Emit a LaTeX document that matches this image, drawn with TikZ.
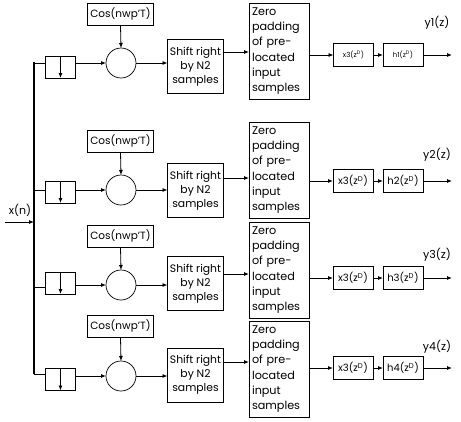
\documentclass[tikz,border=0pt]{standalone}
\usepackage{fontspec}
\setmainfont{Poppins}
\usetikzlibrary{arrows.meta}
\begin{document}
\begin{tikzpicture}[x=1pt,y=-1pt,
  every node/.style={inner sep=0pt,outer sep=0pt},
  box/.style={draw,line width=0.9pt,font=\fontsize{10.5}{12}\selectfont},
  cosbox/.style={box,minimum width=66pt,minimum height=22pt},
  dsbox/.style={draw,line width=0.9pt,minimum width=30pt,minimum height=22pt},
  mixer/.style={draw,circle,line width=0.7pt,minimum size=30pt},
  shiftbox/.style={box,minimum width=56pt,minimum height=54pt,align=center,font=\fontsize{10.8}{14}\selectfont},
  zerobox/.style={box,minimum width=60pt,minimum height=96pt,align=left,text width=54pt,font=\fontsize{11.2}{15.2}\selectfont},
  smallbox/.style={box,minimum width=40pt,minimum height=23pt,font=\fontsize{10}{11}\selectfont},
  tinybox/.style={box,minimum width=40pt,minimum height=23pt,font=\fontsize{7}{8}\selectfont},
  lbl/.style={font=\fontsize{11}{12}\selectfont},
  arr/.style={-{Latex[length=5pt,width=4pt]},line width=0.8pt},
  ln/.style={line width=0.8pt}]
\useasboundingbox (0,0) rectangle (461,421);

% bus and input
\coordinate (busTop) at (34,62);
\coordinate (busBot) at (34,374);
\coordinate (inStart) at (5,222);
\coordinate (inEnd) at (34,222);
\draw[line width=1.6pt] (busTop) -- (busBot);
\draw[arr] (inStart) -- (inEnd);
\node[lbl] (xn) at (20,210) {x(n)};

% ---------- rows ----------
\foreach \r/\cy/\cosy/\dsy/\shy/\zy/\xy/\bry/\szy/\yl in
  {1/63/14/67/66.5/51/55/63/52/23,
   2/190/141/192/190.5/170/181/190/178/155,
   3/285/236/283/283.5/270/278/287/274/255,
   4/376/326/379.5/375/369/368/374/362/347}{
  \node[cosbox] (cos\r) at (120.5,\cosy) {Cos(nwp'T)};
  \node[mixer] (mix\r) at (121,\cy) {};
  \node[dsbox] (ds\r) at (60.5,\dsy) {};
  \node[shiftbox] (sh\r) at (195.5,\shy) {Shift right\\by N2\\samples};
  \node[zerobox] (zp\r) at (279,\zy) {Zero\\padding\\of pre-\\located\\input\\samples};
  \coordinate (br\r) at (34,\bry);
  \coordinate (sz\r) at (195.5,\szy);
  \coordinate (out\r) at (452,\xy);
  \node[lbl] (y\r) at (437,\yl) {y\r(z)};
  % connectors
  \draw[ln] (br\r) -- (ds\r.west |- br\r);
  \draw[arr] (ds\r.north) -- (ds\r.south);
  \draw[arr] (ds\r.east |- mix\r) -- (mix\r.west);
  \draw[arr] (cos\r.south) -- (mix\r.north);
  \draw[arr] (mix\r.east) -- (sh\r.west |- mix\r);
  \draw[arr] (sh\r.east |- sz\r) -- (zp\r.west |- sz\r);
}
% x3 and h boxes
\node[tinybox] (xa1) at (353.5,55) {x3(z\textsuperscript{D})};
\node[tinybox] (ha1) at (403,55) {h1(z\textsuperscript{D})};
\foreach \r/\xy in {2/181,3/278,4/368}{
  \node[smallbox] (xa\r) at (353,\xy) {x3(z\textsuperscript{D})};
  \node[smallbox] (ha\r) at (403,\xy) {h\r(z\textsuperscript{D})};
}
\foreach \r in {1,2,3,4}{
  \draw[arr] (zp\r.east |- xa\r) -- (xa\r.west);
  \draw[arr] (xa\r.east) -- (ha\r.west);
  \draw[arr] (ha\r.east) -- (out\r);
}
\end{tikzpicture}
\end{document}
